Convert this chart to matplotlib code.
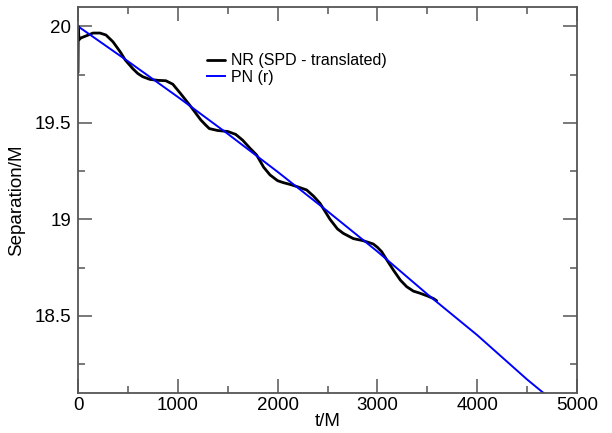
import matplotlib
matplotlib.use("Agg")
import matplotlib.pyplot as plt
from matplotlib.ticker import MultipleLocator

plt.rcParams['font.family'] = ['Liberation Sans', 'DejaVu Sans']

# NR (SPD - translated) separation vs time
nr_t = [0, 3, 10, 30, 80, 150, 220, 280, 350, 420, 474, 550, 600, 648, 720, 800, 880,
        950, 1030, 1132, 1230, 1280, 1316, 1400, 1500, 1580, 1650, 1720, 1790, 1860,
        1924, 2000, 2057, 2130, 2191, 2291, 2360, 2425, 2525, 2600, 2659, 2759,
        2859, 2959, 3000, 3043, 3100, 3160, 3230, 3293, 3360, 3427, 3500, 3560, 3594]
nr_r = [19.76, 20.0, 19.93, 19.94, 19.95, 19.965, 19.965, 19.955, 19.92, 19.87,
        19.825, 19.78, 19.755, 19.739, 19.725, 19.72, 19.718, 19.70, 19.65, 19.583,
        19.515, 19.488, 19.47, 19.46, 19.455, 19.44, 19.41, 19.37, 19.333, 19.27,
        19.23, 19.20, 19.19, 19.18, 19.17, 19.152, 19.12, 19.083, 19.0, 18.95,
        18.927, 18.90, 18.889, 18.872, 18.855, 18.832, 18.785, 18.737, 18.685,
        18.651, 18.628, 18.617, 18.603, 18.59, 18.578]

# PN (r) separation vs time
pn_t = [0, 500, 1000, 1500, 2000, 2500, 3000, 3500, 4000, 4500, 4700]
pn_r = [20.0, 19.819, 19.634, 19.443, 19.246, 19.042, 18.833, 18.612, 18.40, 18.17, 18.085]

x_ticks = [0, 1000, 2000, 3000, 4000, 5000]
y_ticks = [18.5, 19, 19.5, 20]
y_ticklabels = ['18.5', '19', '19.5', '20']

fig = plt.figure(figsize=(6.12, 4.33), dpi=100)
ax = fig.add_axes([78/612, 40/433, 499/612, 386/433])

ax.plot(nr_t, nr_r, color='black', lw=2.0, label='NR (SPD - translated)',
        solid_joinstyle='round', solid_capstyle='round')
ax.plot(pn_t, pn_r, color='#0000ff', lw=1.4, label='PN (r)')

ax.set_xlim(0, 5000)
ax.set_ylim(18.1, 20.1)
ax.set_xticks(x_ticks)
ax.set_xticklabels([str(v) for v in x_ticks])
ax.set_yticks(y_ticks)
ax.set_yticklabels(y_ticklabels)
ax.xaxis.set_minor_locator(MultipleLocator(500))
ax.yaxis.set_minor_locator(MultipleLocator(0.25))

spine_col = '#555555'
for s in ax.spines.values():
    s.set_color(spine_col)
    s.set_linewidth(1.3)
ax.tick_params(which='both', direction='in', top=True, right=True, color=spine_col,
               width=1.1, labelsize=13.5)
ax.tick_params(axis='x', which='both', pad=3)
ax.tick_params(axis='y', which='both', pad=5)
ax.tick_params(which='major', length=10)
ax.tick_params(which='minor', length=5)

ax.set_xlabel('t/M', fontsize=13.5, labelpad=-1)
ax.set_ylabel('Separation/M', fontsize=13.5, labelpad=7)

ax.legend(loc='upper left', bbox_to_anchor=(0.2585, 0.88), frameon=False,
          fontsize=11.5, handlelength=1.15, handletextpad=0.35, borderpad=0,
          borderaxespad=0, labelspacing=0.1)

fig.savefig('out.png', dpi=100)
